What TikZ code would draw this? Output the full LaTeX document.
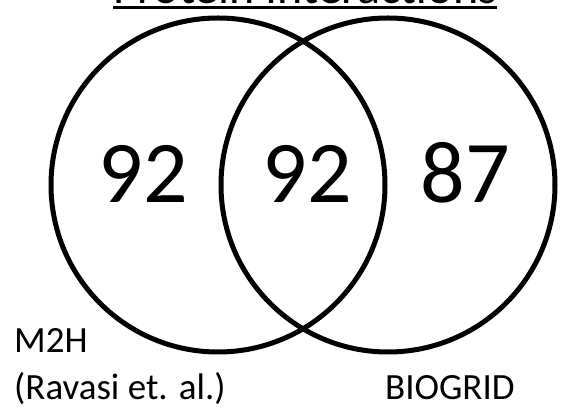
\documentclass[tikz,border=0pt]{standalone}
\usepackage{fontspec}
\setmainfont{Carlito}
\begin{document}
\begin{tikzpicture}[x=1pt,y=1pt,
  setcircle/.style={draw=black,line width=5pt},
  count/.style={inner sep=0pt,anchor=base,font=\fontsize{88}{90}\selectfont},
  setlabel/.style={inner sep=0pt,anchor=base west,font=\fontsize{37}{40}\selectfont},
  title/.style={inner sep=0pt,anchor=base,font=\fontsize{48}{52}\selectfont}]
\useasboundingbox (0,0) rectangle (582,414);
\clip (0,0) rectangle (582,414);
% title with its underline
\node[title] (ttl) at (305,410) {Protein Interactions};
\coordinate (ulA) at (113,406.5);
\coordinate (ulB) at (497,406.5);
\draw[line width=3pt] (ulA) -- (ulB);
% the two sets
\node[setcircle,circle,minimum size=334pt,inner sep=0pt] (m2h) at (218,229) {};
\node[setcircle,circle,minimum size=334pt,inner sep=0pt] (bio) at (388,229) {};
% counts
\node[count] (onlyA) at (143,211) {92};
\node[count] (both) at (307,211) {92};
\node[count] (onlyB) at (465,211) {87};
% set names
\node[setlabel] (labA) at (14,61) {M2H};
\node[setlabel] (labA2) at (14,14) {(Ravasi et. al.)};
\node[setlabel] (labB) at (385,14) {BIOGRID};
\end{tikzpicture}
\end{document}
